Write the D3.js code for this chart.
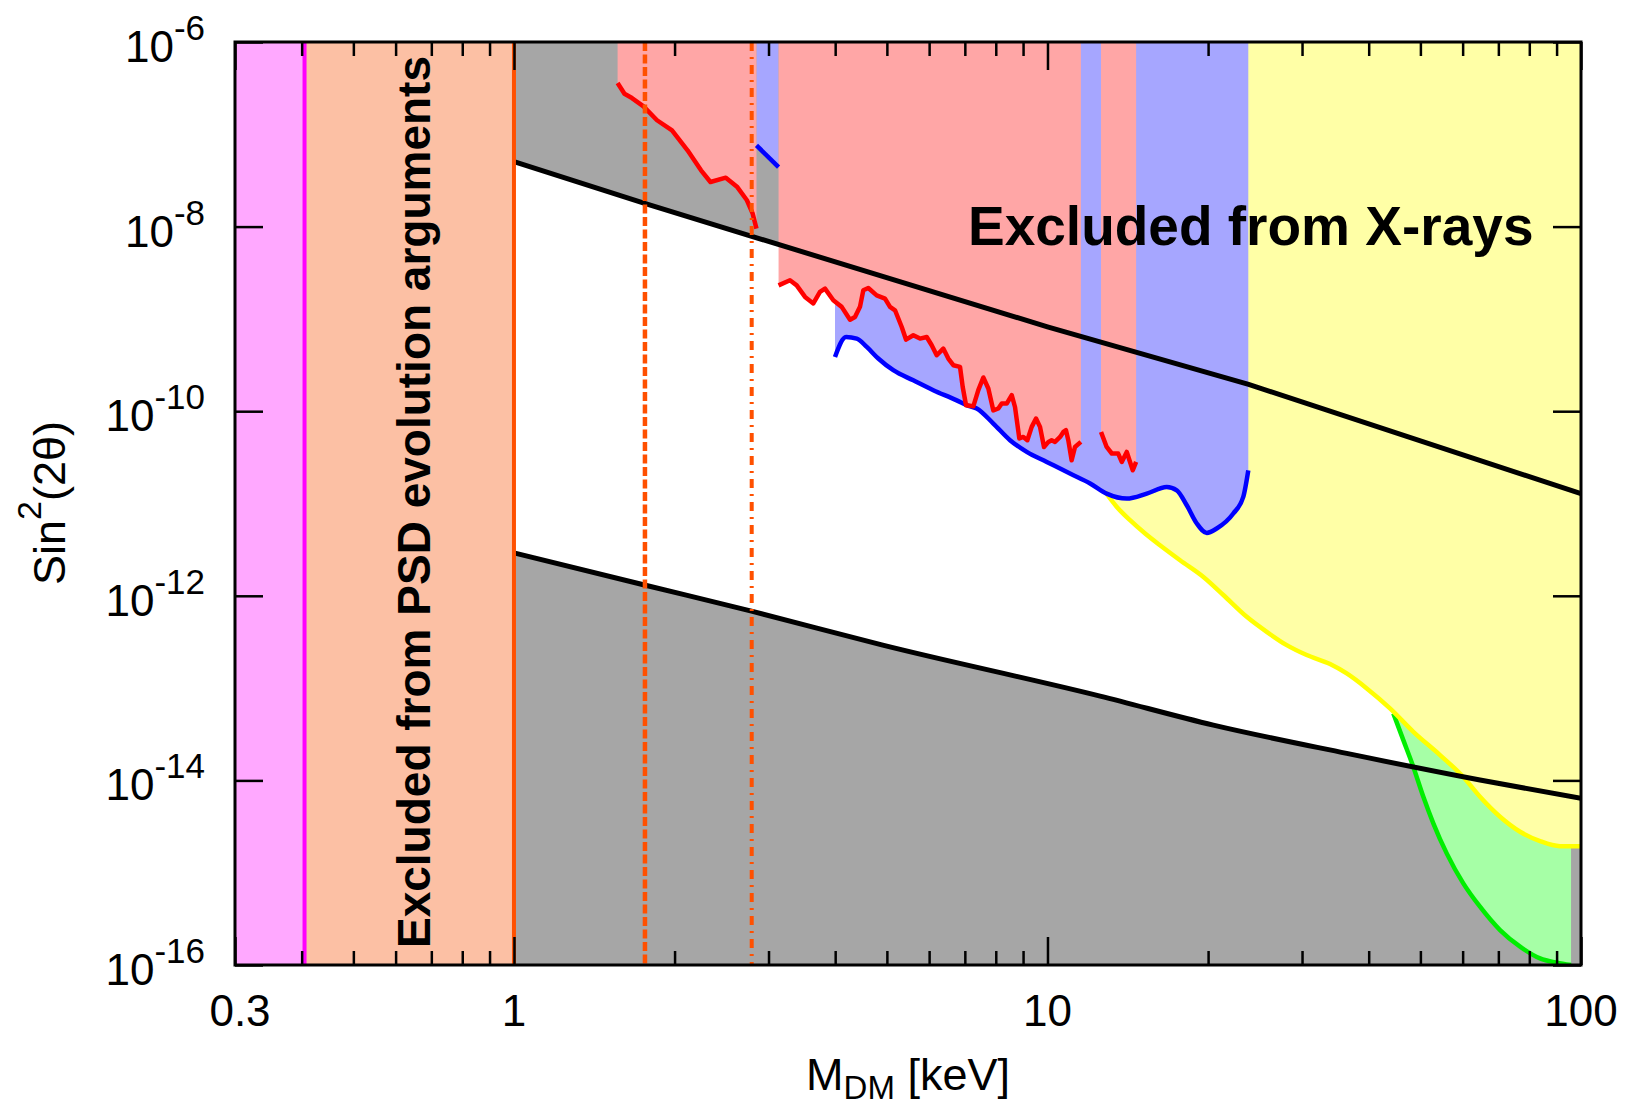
<!DOCTYPE html>
<html>
<head>
<meta charset="utf-8">
<script src="https://cdn.jsdelivr.net/npm/d3@7"></script>
<style>
  html, body { margin: 0; padding: 0; background: #fff; }
  svg { display: block; font-family: "Liberation Sans", Arial, Helvetica, sans-serif; }
</style>
</head>
<body>
<svg id="chart" width="1632" height="1105"></svg>
<script>
// ---------------- data (mass in keV, sin^2(2theta)) ----------------
const xDomain = [0.3, 100];
const yDomain = [1e-16, 1e-6];
const xMajorTicks = [0.3, 1, 10, 100];
const xTickLabels = ["0.3", "1", "10", "100"];
const xMinorTicks = [0.4, 0.5, 0.6, 0.7, 0.8, 0.9, 2, 3, 4, 5, 6, 7, 8, 9, 20, 30, 40, 50, 60, 70, 80, 90];
const yTicks = [1e-6, 1e-8, 1e-10, 1e-12, 1e-14, 1e-16];
const yTickExponents = ["-6", "-8", "-10", "-12", "-14", "-16"];

// vertical bounds
const massMagentaLine = 0.405;
const massOrangeLine = 1.0;
const massDashed = 1.76;
const massDashDot = 2.79;

// upper and lower black lines
const upperLine = [[1, 5.06e-8], [1.764, 1.77e-8], [10, 8.2e-10], [23.82, 1.95e-10], [50.17, 4.75e-11], [100, 1.28e-11]];
const lowerLine = [[1, 2.92e-12], [1.764, 1.30e-12], [2.787, 6.82e-13], [4.912, 2.92e-13], [12.55, 8.19e-14], [20.46, 3.97e-14], [36.38, 1.96e-14], [64.67, 1.01e-14], [100, 6.38e-15]];

// X-ray constraints: red (pink regions)
const redA = [[1.564, 3.59e-7], [1.611, 2.75e-7], [1.664, 2.47e-7], [1.749, 2.01e-7], [1.854, 1.42e-7], [1.978, 1.10e-7], [2.115, 6.70e-8], [2.242, 4.07e-8], [2.335, 3.04e-8], [2.495, 3.39e-8], [2.622, 2.68e-8], [2.733, 1.93e-8], [2.802, 1.38e-8], [2.848, 9.5e-9]];
const redB = [[3.133, 2.31e-9], [3.291, 2.62e-9], [3.388, 2.31e-9], [3.512, 1.73e-9], [3.640, 1.47e-9], [3.746, 1.96e-9], [3.828, 2.13e-9], [3.968, 1.59e-9], [4.114, 1.35e-9], [4.265, 9.8e-10], [4.357, 1.05e-9], [4.452, 1.35e-9], [4.516, 2.04e-9], [4.615, 2.16e-9], [4.785, 1.80e-9], [4.960, 1.66e-9], [5.068, 1.35e-9], [5.179, 1.24e-9], [5.331, 8.17e-10], [5.430, 5.97e-10], [5.604, 6.65e-10], [5.769, 6.12e-10], [5.938, 6.37e-10], [6.067, 5.18e-10], [6.200, 4.04e-10], [6.378, 4.77e-10], [6.518, 3.72e-10], [6.660, 3.15e-10], [6.856, 3.02e-10], [6.936, 1.83e-10], [7.036, 1.16e-10], [7.261, 1.13e-10], [7.419, 1.69e-10], [7.581, 2.32e-10], [7.747, 1.76e-10], [7.916, 1.02e-10], [8.088, 1.07e-10], [8.208, 1.21e-10], [8.387, 1.21e-10], [8.570, 1.49e-10], [8.692, 1.11e-10], [8.856, 5.06e-11], [9.010, 5.26e-11], [9.167, 4.85e-11], [9.342, 6.76e-11], [9.517, 8.32e-11], [9.683, 6.76e-11], [9.851, 4.10e-11], [10.04, 4.65e-11], [10.18, 4.85e-11], [10.33, 4.65e-11], [10.56, 5.26e-11], [10.71, 5.96e-11], [10.83, 6.22e-11], [10.94, 4.85e-11], [11.10, 2.94e-11], [11.26, 4.10e-11], [11.55, 4.65e-11]];
const redC = [[12.60, 5.96e-11], [12.91, 4.10e-11], [13.20, 3.48e-11], [13.57, 3.48e-11], [13.78, 2.82e-11], [14.08, 3.62e-11], [14.28, 2.82e-11], [14.45, 2.29e-11], [14.66, 2.82e-11]];

// blue constraints
const blueA = [[2.848, 7.59e-8], [3.133, 4.42e-8]];
const blueB = [[3.997, 3.87e-10], [4.192, 6.37e-10], [4.390, 6.12e-10], [4.584, 4.97e-10], [4.818, 3.72e-10], [5.140, 2.78e-10], [5.604, 2.16e-10], [6.109, 1.69e-10], [6.759, 1.31e-10], [7.057, 1.16e-10], [7.368, 1.07e-10], [7.916, 7.35e-11], [8.507, 4.85e-11], [9.144, 3.62e-11], [9.968, 2.82e-11], [11.02, 2.11e-11], [12.02, 1.65e-11], [12.91, 1.28e-11], [14.08, 1.13e-11], [15.35, 1.28e-11], [16.73, 1.51e-11], [17.47, 1.39e-11], [18.24, 9.58e-12], [19.05, 6.07e-12], [19.89, 4.80e-12], [20.76, 5.36e-12], [22.30, 7.79e-12], [23.28, 1.18e-11], [23.79, 2.29e-11]];

// yellow constraint
const yellow = [[12.82, 1.34e-11], [13.49, 9.18e-12], [14.28, 6.59e-12], [15.24, 4.73e-12], [16.25, 3.53e-12], [17.72, 2.43e-12], [19.60, 1.60e-12], [21.36, 1.02e-12], [23.63, 5.92e-13], [25.76, 4.07e-13], [28.08, 2.92e-13], [30.61, 2.28e-13], [33.86, 1.82e-13], [36.38, 1.44e-13], [39.67, 9.92e-14], [43.85, 6.03e-14], [48.50, 3.36e-14], [54.42, 1.88e-14], [60.17, 1.09e-14], [64.67, 6.65e-15], [70.51, 4.04e-15], [76.88, 2.78e-15], [83.80, 2.20e-15], [91.34, 1.94e-15], [100, 1.94e-15]];

// green constraint
const green = [[44.49, 5.32e-14], [46.45, 2.73e-14], [48.50, 1.40e-14], [50.64, 6.65e-15], [52.87, 3.43e-15], [56.01, 1.62e-15], [60.17, 7.67e-16], [64.67, 4.28e-16], [70.51, 2.39e-16], [76.88, 1.58e-16], [83.80, 1.18e-16], [90.05, 1.06e-16], [95.8, 1.0e-16]];

// ---------------- layout ----------------
const L = 235, R = 1581, T = 42, B = 965;
const svg = d3.select("#chart");
const x = d3.scaleLog().domain(xDomain).range([L, R]);
const y = d3.scaleLog().domain(yDomain).range([B, T]);

const col = {
  magentaFill: "#FFA8FF", magenta: "#FF00FF",
  peach: "#FCC0A4", orange: "#FF5000",
  gray: "#A6A6A6", pink: "#FFA6A6", blueFill: "#A6A6FF",
  yellowFill: "#FFFFA6", greenFill: "#A6FFA6",
  red: "#FF0000", blue: "#0000FF", yellow: "#FFFF00", green: "#00EE00"
};

const defs = svg.append("defs");
defs.append("clipPath").attr("id", "plotclip")
  .append("rect").attr("x", L).attr("y", T).attr("width", R - L).attr("height", B - T);

const plot = svg.append("g").attr("clip-path", "url(#plotclip)");

// vertical bands
plot.append("rect").attr("x", x(xDomain[0])).attr("y", T)
  .attr("width", x(massMagentaLine) - x(xDomain[0])).attr("height", B - T).attr("fill", col.magentaFill);
plot.append("rect").attr("x", x(massMagentaLine)).attr("y", T)
  .attr("width", x(massOrangeLine) - x(massMagentaLine)).attr("height", B - T).attr("fill", col.peach);

function areaAbove(curve) {
  return d3.area().x(d => x(d[0])).y0(y(yDomain[1])).y1(d => y(d[1])).curve(curve || d3.curveLinear);
}
function areaBelow(curve) {
  return d3.area().x(d => x(d[0])).y0(y(yDomain[0])).y1(d => y(d[1])).curve(curve || d3.curveLinear);
}
function lineOf(curve) {
  return d3.line().x(d => x(d[0])).y(d => y(d[1])).curve(curve || d3.curveLinear);
}
const smooth = d3.curveMonotoneX;

// gray regions
plot.append("path").datum(upperLine).attr("d", areaAbove()).attr("fill", col.gray);
plot.append("path").datum(lowerLine).attr("d", areaBelow(smooth)).attr("fill", col.gray);

// green, yellow, blue, pink fills
plot.append("path").datum(green).attr("d", areaAbove(smooth)).attr("fill", col.greenFill);
plot.append("path").datum(yellow).attr("d", areaAbove(smooth)).attr("fill", col.yellowFill);
plot.append("path").datum(blueA).attr("d", areaAbove()).attr("fill", col.blueFill);
plot.append("path").datum(blueB).attr("d", areaAbove(smooth)).attr("fill", col.blueFill);
[redA, redB, redC].forEach(s => {
  plot.append("path").datum(s).attr("d", areaAbove()).attr("fill", col.pink);
});

// boundary curves
plot.append("path").datum(green).attr("d", lineOf(smooth)).attr("fill", "none").attr("stroke", col.green).attr("stroke-width", 4.5);
plot.append("path").datum(yellow).attr("d", lineOf(smooth)).attr("fill", "none").attr("stroke", col.yellow).attr("stroke-width", 4.5);
plot.append("path").datum(blueA).attr("d", lineOf()).attr("fill", "none").attr("stroke", col.blue).attr("stroke-width", 4.5);
plot.append("path").datum(blueB).attr("d", lineOf(smooth)).attr("fill", "none").attr("stroke", col.blue).attr("stroke-width", 4.5);
[redA, redB, redC].forEach(s => {
  plot.append("path").datum(s).attr("d", lineOf()).attr("fill", "none").attr("stroke", col.red)
    .attr("stroke-width", 4.5).attr("stroke-linejoin", "round");
});
plot.append("path").datum(upperLine).attr("d", lineOf()).attr("fill", "none").attr("stroke", "#000").attr("stroke-width", 5);
plot.append("path").datum(lowerLine).attr("d", lineOf(smooth)).attr("fill", "none").attr("stroke", "#000").attr("stroke-width", 5);

// vertical lines
plot.append("line").attr("x1", x(massMagentaLine)).attr("x2", x(massMagentaLine)).attr("y1", T).attr("y2", B)
  .attr("stroke", col.magenta).attr("stroke-width", 4);
plot.append("line").attr("x1", x(massOrangeLine)).attr("x2", x(massOrangeLine)).attr("y1", T).attr("y2", B)
  .attr("stroke", col.orange).attr("stroke-width", 4);
plot.append("line").attr("x1", x(massDashed)).attr("x2", x(massDashed)).attr("y1", T).attr("y2", B)
  .attr("stroke", col.orange).attr("stroke-width", 4.5).attr("stroke-dasharray", "9,3.5");
plot.append("line").attr("x1", x(massDashDot)).attr("x2", x(massDashDot)).attr("y1", T).attr("y2", B)
  .attr("stroke", col.orange).attr("stroke-width", 4).attr("stroke-dasharray", "9,6,2,6");

// annotations
svg.append("text").attr("x", 968).attr("y", 245)
  .attr("font-size", 55).attr("font-weight", "bold").attr("fill", "#000")
  .text("Excluded from X-rays");
svg.append("text").attr("transform", "translate(430,502) rotate(-90)")
  .attr("text-anchor", "middle").attr("font-size", 46).attr("font-weight", "bold").attr("fill", "#000")
  .text("Excluded from PSD evolution arguments");

// ---------------- axes ----------------
function styleAxis(g) {
  g.select(".domain").remove();
  g.selectAll(".tick line").attr("stroke", "#000").attr("stroke-width", 2.5);
  g.selectAll(".tick text").remove();
}
svg.append("g").attr("transform", `translate(0,${B})`)
  .call(d3.axisBottom(x).tickValues(xMajorTicks).tickSize(-28).tickFormat("")).call(styleAxis);
svg.append("g").attr("transform", `translate(0,${B})`)
  .call(d3.axisBottom(x).tickValues(xMinorTicks).tickSize(-14).tickFormat("")).call(styleAxis);
svg.append("g").attr("transform", `translate(0,${T})`)
  .call(d3.axisTop(x).tickValues(xMajorTicks).tickSize(-28).tickFormat("")).call(styleAxis);
svg.append("g").attr("transform", `translate(0,${T})`)
  .call(d3.axisTop(x).tickValues(xMinorTicks).tickSize(-14).tickFormat("")).call(styleAxis);
svg.append("g").attr("transform", `translate(${L},0)`)
  .call(d3.axisLeft(y).tickValues(yTicks).tickSize(-28).tickFormat("")).call(styleAxis);
svg.append("g").attr("transform", `translate(${R},0)`)
  .call(d3.axisRight(y).tickValues(yTicks).tickSize(-28).tickFormat("")).call(styleAxis);

// frame
svg.append("rect").attr("x", L).attr("y", T).attr("width", R - L).attr("height", B - T)
  .attr("fill", "none").attr("stroke", "#000").attr("stroke-width", 3);

// x tick labels
xMajorTicks.forEach((v, i) => {
  svg.append("text").attr("x", x(v) + (v === 0.3 ? 5 : 0)).attr("y", 1026)
    .attr("text-anchor", "middle").attr("font-size", 44).attr("fill", "#000")
    .text(xTickLabels[i]);
});
// y tick labels
yTicks.forEach((v, i) => {
  const t = svg.append("text").attr("x", 205).attr("y", y(v) + 20)
    .attr("text-anchor", "end").attr("font-size", 44).attr("fill", "#000");
  t.append("tspan").text("10");
  t.append("tspan").attr("font-size", 35).attr("dy", -22).text(yTickExponents[i]);
});

// axis titles
const xt = svg.append("text").attr("x", (L + R) / 2).attr("y", 1090)
  .attr("text-anchor", "middle").attr("font-size", 45).attr("fill", "#000");
xt.append("tspan").text("M");
xt.append("tspan").attr("font-size", 33).attr("dy", 9).text("DM");
xt.append("tspan").attr("dy", -9).text(" [keV]");

const yt = svg.append("text").attr("transform", "translate(65,503) rotate(-90)")
  .attr("text-anchor", "middle").attr("font-size", 45).attr("fill", "#000");
yt.append("tspan").text("Sin");
yt.append("tspan").attr("font-size", 34).attr("dy", -24).text("2");
yt.append("tspan").attr("dy", 24).text("(2θ)");
</script>
</body>
</html>
